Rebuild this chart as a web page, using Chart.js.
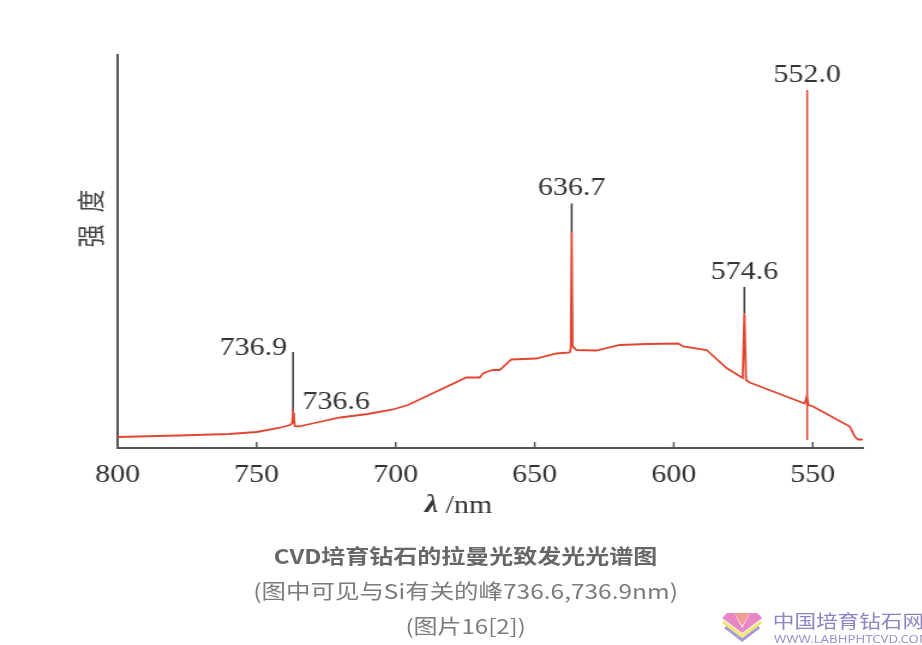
<!DOCTYPE html>
<html lang="zh-CN">
<head>
<meta charset="utf-8">
<title>CVD培育钻石的拉曼光致发光光谱图</title>
<script src="https://cdn.jsdelivr.net/npm/chart.js@4.4.1/dist/chart.umd.min.js"></script>
<style>
  html, body { margin: 0; padding: 0; background: #fff; overflow: hidden; }
  /* the source picture is stretched sideways, so the whole page is too */
  #page { position: relative; width: 768px; height: 645px; transform: scaleX(1.2); transform-origin: 0 0; }
  #spectrum { position: absolute; left: 0; top: 0; }
  .cap { position: absolute; left: 4px; width: 768px; text-align: center; white-space: nowrap;
         font-family: "Noto Sans CJK SC", "Noto Sans", sans-serif; }
  #cap1 { top: 543px; font-size: 20px; line-height: 26px; font-weight: bold; color: #676767; }
  #cap2 { top: 577px; font-size: 20.4px; line-height: 26px; color: #7c7c7c; }
  #cap3 { top: 613px; font-size: 20px; line-height: 26px; color: #7c7c7c; }
  #logo { position: absolute; left: 601px; top: 612px; width: 35px; height: 30px; }
  #site { position: absolute; left: 644px; top: 609px; font-family: "Noto Sans CJK SC", sans-serif;
          font-size: 18px; line-height: 22px; color: #8c83c5; white-space: nowrap; }
  #url { position: absolute; left: 645px; top: 632px; font-family: "Noto Sans", sans-serif;
         font-size: 11px; line-height: 13px; color: #9d94cc; white-space: nowrap; }
</style>
</head>
<body>
<div id="page">
  <canvas id="spectrum" width="768" height="520"></canvas>
  <div class="cap" id="cap1">CVD培育钻石的拉曼光致发光光谱图</div>
  <div class="cap" id="cap2">(图中可见与Si有关的峰736.6,736.9nm)</div>
  <div class="cap" id="cap3">(图片16[2])</div>
  <svg id="logo" viewBox="0 0 42 30" preserveAspectRatio="none">
    <polyline points="4,15 21,28 38,15" fill="none" stroke="#a79ad6" stroke-width="3"/>
    <polyline points="2,10 21,24 40,10" fill="none" stroke="#f3e66a" stroke-width="3"/>
    <polygon points="1,6 6,1 13,1 21,16 21,21" fill="#e986c6"/>
    <polygon points="41,6 36,1 29,1 21,16 21,21" fill="#e986c6"/>
    <polygon points="13,1 29,1 21,14" fill="#f29a94"/>
  </svg>
  <div id="site">中国培育钻石网</div>
  <div id="url">WWW.LABHPHTCVD.COM</div>
</div>
<script>
const xTicks = [800, 750, 700, 650, 600, 550];

// photoluminescence spectrum, wavelength (nm) and intensity (arbitrary units)
const specNm = [800, 778, 760, 750, 742, 738, 737.2, 736.9, 736.6, 736.3,
  735, 730, 720, 710, 701, 695.6, 674.6, 669.8, 668.6, 667.4,
  665, 662.6, 658.4, 649.4, 642.2, 637.4, 637.0, 636.7, 636.4, 635.0,
  627.9, 619.4, 609.8, 598.4, 596.6, 588.2, 581.0, 575.2, 574.6, 574.0,
  572.7, 552.9, 552.2, 551.5, 549.9, 536.7, 534.9, 533.7, 532];
const specInt = [11, 12.5, 14, 16, 20, 23, 25, 35, 31, 22,
  21.5, 24.5, 30.5, 34, 38.5, 43, 70.5, 70.5, 74.5, 76,
  78, 78, 88.5, 89.5, 94.5, 95.5, 100, 216, 102, 98,
  97.5, 103, 104, 104.5, 101.5, 98, 80, 70, 134.5, 68,
  65.5, 44.5, 51, 43, 41.5, 21.5, 11.5, 8.5, 8.5];

// black leader lines above the peaks
const markNm = [736.9, 636.7, 574.6];
const markLow = [35, 216, 134.5];
const markHigh = [96, 244.5, 161];

// the 552.0 line, drawn in red across the curve
const lineNm = 552.0;
const lineLow = 8;
const lineHigh = 358;

const peakNames = ['736.9', '736.6', '636.7', '574.6', '552.0'];
const peakNm = [736.9, 736.6, 636.7, 574.6, 552.0];

const red = '#e2452f';

const decor = {
  id: 'decor',
  afterDraw(chart) {
    const { ctx, chartArea: a, scales: { x, y } } = chart;
    ctx.save();

    // tick marks point up into the plot
    ctx.strokeStyle = '#555';
    ctx.lineWidth = 1.5;
    xTicks.forEach(v => {
      if (v === x.max) return;
      const px = x.getPixelForValue(v);
      ctx.beginPath();
      ctx.moveTo(px, a.bottom);
      ctx.lineTo(px, a.bottom - 6);
      ctx.stroke();
    });

    // peak labels
    ctx.fillStyle = '#333';
    ctx.font = '25px "Liberation Serif"';
    ctx.textBaseline = 'middle';
    const anchors = [markHigh[0], markLow[0], markHigh[1], markHigh[2], lineHigh];
    const place = [['right', -5, -4], ['left', 7, -11], ['center', 0, -15], ['center', 0, -15], ['center', 0, -15]];
    peakNames.forEach((t, i) => {
      const [al, dx, dy] = place[i];
      ctx.textAlign = al;
      ctx.fillText(t, x.getPixelForValue(peakNm[i]) + dx, y.getPixelForValue(anchors[i]) + dy);
    });

    // x title: bold italic lambda, then " /nm"
    const tx = a.left + 256, ty = a.bottom + 58;
    ctx.textAlign = 'left';
    ctx.font = 'italic bold 25px "Liberation Serif"';
    ctx.fillText('λ', tx, ty);
    const w = ctx.measureText('λ').width;
    ctx.font = '25px "Liberation Serif"';
    ctx.fillText(' /nm', tx + w, ty);

    // y title, one character at a time, rotated
    ctx.fillStyle = '#444';
    ctx.font = '23px "Noto Sans CJK SC"';
    ctx.textAlign = 'center';
    [['度', a.top + 146], ['强', a.top + 181]].forEach(([ch, cy]) => {
      ctx.save();
      ctx.translate(a.left - 23, cy);
      ctx.rotate(-Math.PI / 2);
      ctx.fillText(ch, 0, 0);
      ctx.restore();
    });

    ctx.restore();
  }
};

const datasets = [
  {
    data: specNm.map((v, i) => ({ x: v, y: specInt[i] })),
    borderColor: red,
    borderWidth: 1.8,
    pointRadius: 0,
    tension: 0
  },
  {
    data: [{ x: lineNm, y: lineLow }, { x: lineNm, y: lineHigh }],
    borderColor: red,
    borderWidth: 1.5,
    pointRadius: 0
  }
].concat(markNm.map((v, i) => ({
  data: [{ x: v, y: markLow[i] }, { x: v, y: markHigh[i] }],
  borderColor: '#333',
  borderWidth: 1.5,
  pointRadius: 0
})));

const spectrumChart = new Chart(document.getElementById('spectrum'), {
  type: 'line',
  data: { datasets: datasets },
  options: {
    responsive: false,
    animation: false,
    devicePixelRatio: 1,
    layout: { padding: { left: 98, right: 49, top: 55, bottom: 32 } },
    plugins: { legend: { display: false }, tooltip: { enabled: false } },
    scales: {
      x: {
        type: 'linear',
        reverse: true,
        min: 532,
        max: 800,
        afterBuildTicks: s => { s.ticks = xTicks.map(v => ({ value: v })); },
        afterFit: s => { s.height = 40; },
        grid: { display: false, drawTicks: false },
        border: { display: true, color: '#555', width: 2 },
        ticks: {
          color: '#333',
          padding: 12,
          maxRotation: 0,
          autoSkip: false,
          font: { family: 'Liberation Serif', size: 25 }
        }
      },
      y: {
        min: 0,
        max: 393,
        afterFit: s => { s.width = 0; },
        grid: { display: false, drawTicks: false },
        border: { display: true, color: '#555', width: 2 },
        ticks: { display: false }
      }
    }
  },
  plugins: [decor]
});
</script>
</body>
</html>
